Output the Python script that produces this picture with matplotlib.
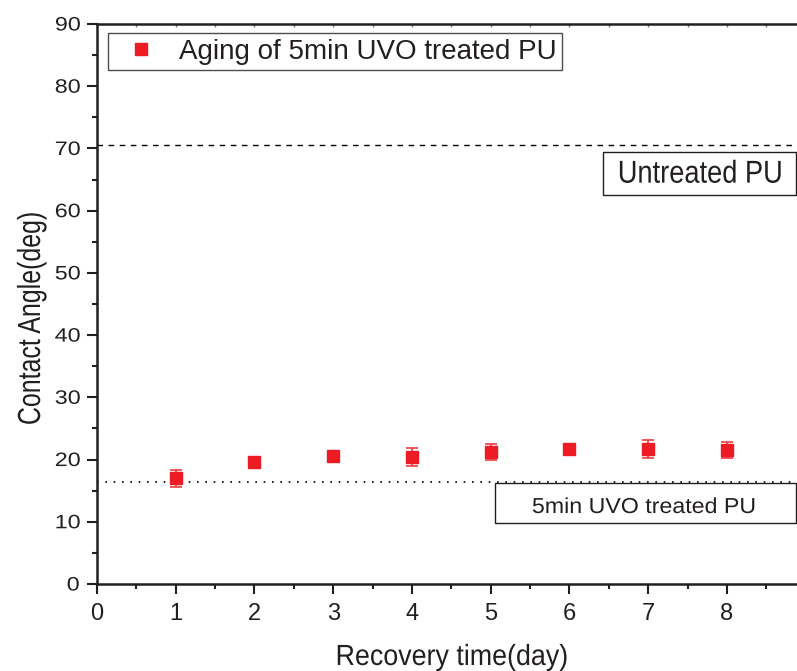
import matplotlib
matplotlib.use('Agg')
import matplotlib.pyplot as plt
from matplotlib.ticker import MultipleLocator, FixedLocator
from matplotlib.lines import Line2D
from matplotlib.patches import Rectangle
from matplotlib.patheffects import AbstractPathEffect
from matplotlib.transforms import Affine2D

# data
days = [1, 2, 3, 4, 5, 6, 7, 8]
angle = [17.0, 19.6, 20.6, 20.4, 21.2, 21.7, 21.7, 21.5]
angle_err = [1.35, 0.5, 0.5, 1.45, 1.25, 0.5, 1.4, 1.25]
x_ticks = [0, 1, 2, 3, 4, 5, 6, 7, 8]
untreated_level = 70.5
uvo_level = 16.45
series_label = 'Aging of 5min UVO treated PU'


class Squeeze(AbstractPathEffect):
    """Stretch/condense a text path around its own centre (the original font is narrow)."""
    def __init__(self, sx=1.0, sy=1.0):
        super().__init__()
        self.sx, self.sy = sx, sy

    def draw_path(self, renderer, gc, tpath, affine, rgbFace=None):
        ext = affine.transform_path(tpath).get_extents()
        cx, cy = (ext.x0 + ext.x1) / 2, (ext.y0 + ext.y1) / 2
        affine = affine + Affine2D().translate(-cx, -cy).scale(self.sx, self.sy).translate(cx, cy)
        renderer.draw_path(gc, tpath, affine, rgbFace)


plt.rcParams['font.family'] = ['Liberation Sans', 'DejaVu Sans']
red = '#ED1C24'
ink = '#231F20'

fig = plt.figure(figsize=(7.97, 6.71), dpi=100)
W, H = 797, 671
x0, y0, y1 = 97, 584, 24
px_per_day = 78.75
ax = fig.add_axes([x0 / W, (H - y0) / H, 9 * px_per_day / W, (y0 - y1) / H])

ax.errorbar(days, angle, yerr=angle_err, fmt='s', color=red, ms=8.5,
            ecolor='#EF3A40', elinewidth=1.2, capsize=4.5, capthick=1.2, zorder=3)

ax.axhline(untreated_level, color='black', ls=(0, (4, 4)), lw=1)
ax.axhline(uvo_level, color='black', ls=(0, (1, 4)), lw=1.2)

# the plot area runs on past the right edge of the picture (cropped original)
ax.set_xlim(0, 9)
ax.set_ylim(0, 90)
ax.xaxis.set_major_locator(FixedLocator(x_ticks))
ax.xaxis.set_minor_locator(MultipleLocator(0.5))
ax.yaxis.set_major_locator(MultipleLocator(10))
ax.yaxis.set_minor_locator(MultipleLocator(5))
ax.tick_params(which='both', direction='out', width=1.5, colors=ink,
               top=False, right=False)
ax.tick_params(which='major', length=7.2)
ax.tick_params(which='minor', length=3.6)
ax.tick_params(axis='x', labelsize=17, pad=6.5)
ax.tick_params(axis='y', labelsize=14, pad=6)
for s in ax.spines.values():
    s.set_linewidth(1.8)
    s.set_color(ink)

# small inward ticks on the top spine
top = ax.secondary_xaxis('top')
top.xaxis.set_major_locator(FixedLocator(x_ticks))
top.xaxis.set_minor_locator(MultipleLocator(0.5))
top.tick_params(which='both', direction='in', length=2.5, width=1, colors='#777777',
                labeltop=False)
top.spines['top'].set_visible(False)

ax.set_xlabel('Recovery time(day)', fontsize=21, color=ink, va='baseline')
ax.xaxis.set_label_coords((452 - x0) / (9 * px_per_day), (y0 - 665) / (y0 - y1))
ax.xaxis.label.set_path_effects([Squeeze(sx=0.92)])
ax.set_ylabel('Contact Angle(deg)', fontsize=23, color=ink, va='baseline')
ax.yaxis.set_label_coords((40 - x0) / (9 * px_per_day), (y0 - 318) / (y0 - y1))
ax.yaxis.label.set_path_effects([Squeeze(sx=1.0, sy=0.78)])

handle = Line2D([], [], ls='none', marker='s', ms=8.5, color=red)
leg = ax.legend([handle], [series_label], loc='upper left',
                bbox_to_anchor=((108 - x0) / (9 * px_per_day), (y0 - 33) / (y0 - y1)),
                borderaxespad=0, fontsize=20, frameon=True, fancybox=False,
                handlelength=1.94, handletextpad=0.4, borderpad=0.2, numpoints=1)
leg.get_frame().set_edgecolor(ink)
leg.get_frame().set_linewidth(1)
for t in leg.get_texts():
    t.set_color(ink)

# labelled reference levels
ax.add_patch(Rectangle((6.42, 62.52), 8.876 - 6.42, 69.48 - 62.52,
                       fc='white', ec=ink, lw=1, zorder=4))
t1 = ax.text(7.66, 64.5, 'Untreated PU', fontsize=22.8, color=ink,
             ha='center', va='baseline', zorder=5)
t1.set_path_effects([Squeeze(sx=0.86)])

ax.add_patch(Rectangle((5.054, 9.85), 8.876 - 5.054, 16.18 - 9.85,
                       fc='white', ec=ink, lw=1, zorder=4))
t2 = ax.text(6.94, 11.41, '5min UVO treated PU', fontsize=15.6, color=ink,
             ha='center', va='baseline', zorder=5)
t2.set_path_effects([Squeeze(sx=1.07)])

fig.canvas.draw()
for tk in ax.yaxis.get_major_ticks():
    tk.label1.set_path_effects([Squeeze(sx=1.2)])

fig.savefig('out.png', dpi=100)
